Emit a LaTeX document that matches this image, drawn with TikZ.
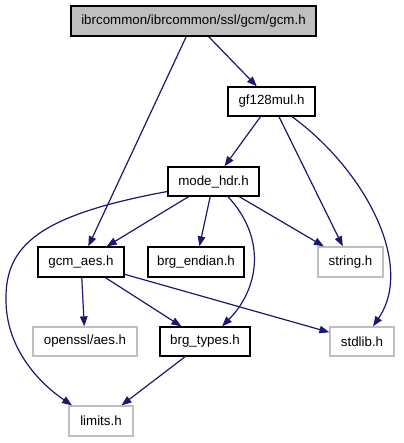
\documentclass[tikz,border=0pt]{standalone}
\usepackage{fontspec}
\setmainfont{Liberation Sans}
\usetikzlibrary{arrows.meta}
\definecolor{edgeblue}{HTML}{191970}
\definecolor{extgrey}{HTML}{BFBFBF}
\tikzset{
  box/.style={draw=black, line width=1.3pt, rectangle, inner sep=0pt, font=\fontsize{13.33}{16}\selectfont, text=black},
  extbox/.style={box, draw=extgrey},
  edge/.style={draw=edgeblue, line width=1.2pt, -{Triangle[length=10pt,width=7.5pt]}},
}
\begin{document}
\begin{tikzpicture}[x=1pt,y=-1pt]
\useasboundingbox (0,0) rectangle (403,443);
\node[box, fill=extgrey, minimum width=245pt, minimum height=30pt] (gcm) at (193.5,21) {ibrcommon/ibrcommon/ssl/gcm/gcm.h};
\node[box, minimum width=87pt, minimum height=29pt] (gf) at (271.5,101.5) {gf128mul.h};
\node[box, minimum width=91pt, minimum height=29pt] (mode) at (213.5,181.5) {mode\_hdr.h};
\node[box, minimum width=86pt, minimum height=30pt] (gcmaes) at (81,262) {gcm\_aes.h};
\node[box, minimum width=96pt, minimum height=30pt] (endian) at (196,262) {brg\_endian.h};
\node[extbox, minimum width=65pt, minimum height=30pt] (string) at (350.5,262) {string.h};
\node[extbox, minimum width=104pt, minimum height=29pt] (openssl) at (85,341.5) {openssl/aes.h};
\node[box, minimum width=90pt, minimum height=29pt] (types) at (205,341.5) {brg\_types.h};
\node[extbox, minimum width=64pt, minimum height=29pt] (stdlib) at (362,341.5) {stdlib.h};
\node[extbox, minimum width=64pt, minimum height=30pt] (limits) at (101,421) {limits.h};

\draw[edge] (gcm) -- (gcmaes);
\draw[edge] (gcm) -- (gf);
\draw[edge] (gf) -- (mode);
\draw[edge] (gf) -- (string);
\draw[edge] ([xshift=20.5pt]gf.south) .. controls (365,170) and (415,265) .. ([xshift=11pt]stdlib.north);
\draw[edge] ([yshift=-10pt]mode.west) .. controls (40,215) and (5,245) .. (6,300) .. controls (6,345) and (35,380) .. ([xshift=-29pt]limits.north);
\draw[edge] (mode) -- (gcmaes);
\draw[edge] (mode) -- (endian);
\draw[edge] ([xshift=14.5pt]mode.south) .. controls (268,240) and (258,290) .. ([xshift=17pt]types.north);
\draw[edge] (mode) -- (string);
\draw[edge] (gcmaes) -- (openssl);
\draw[edge] (gcmaes) -- (types);
\draw[edge] (gcmaes) -- (stdlib);
\draw[edge] (types) -- (limits);
\end{tikzpicture}
\end{document}
